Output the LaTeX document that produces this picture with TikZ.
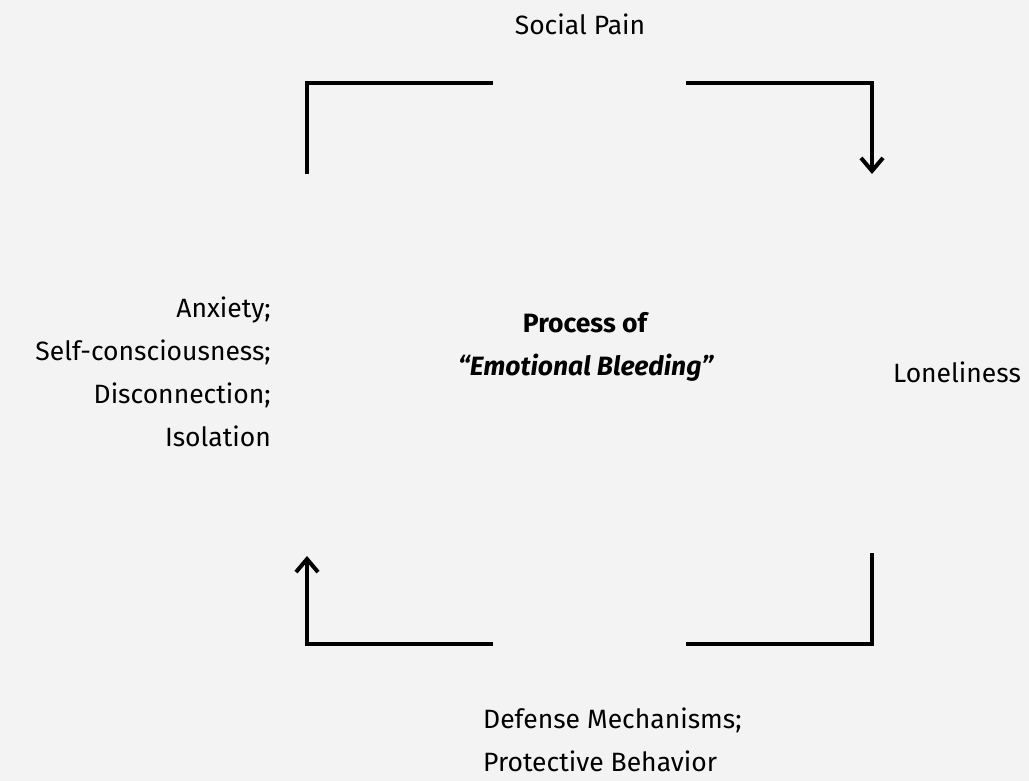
\documentclass[tikz,border=0pt]{standalone}
\usepackage{fontspec}
\setmainfont{Fira Sans}
\usetikzlibrary{arrows.meta}
\definecolor{bg}{HTML}{F3F3F3}
\begin{document}
\begin{tikzpicture}[x=1pt,y=-1pt,
  lbl/.style={font=\fontsize{26.5}{43}\selectfont, inner sep=0pt},
  bracket/.style={line width=4pt, black},
  arr/.style={bracket, -{Straight Barb[length=13pt,width=22pt,line width=4pt]}}]
\fill[bg] (0,0) rectangle (1029,781);
\useasboundingbox (0,0) rectangle (1029,781);
\node[lbl] (social) at (580,24) {Social Pain};
\node[lbl, anchor=east, align=right] (left) at (271,372) {Anxiety;\\Self-consciousness;\\Disconnection;\\Isolation};
\node[lbl, anchor=west] (lonely) at (893,372) {Loneliness};
\node[lbl, anchor=west, align=left] (bottom) at (483,740) {Defense Mechanisms;\\Protective Behavior};
\node[lbl, align=center] (center) at (586,347) {\textbf{Process of}\\\textbf{\textit{“Emotional Bleeding”}}};
\coordinate (a1) at (307,174); \coordinate (a2) at (307,83); \coordinate (a3) at (493,83);
\coordinate (b1) at (686,83); \coordinate (b2) at (872,83); \coordinate (b3) at (872,174);
\coordinate (c1) at (872,553); \coordinate (c2) at (872,644); \coordinate (c3) at (686,644);
\coordinate (d1) at (493,644); \coordinate (d2) at (307,644); \coordinate (d3) at (307,556);
\draw[bracket] (a1) -- (a2) -- (a3);
\draw[arr] (b1) -- (b2) -- (b3);
\draw[bracket] (c1) -- (c2) -- (c3);
\draw[arr] (d1) -- (d2) -- (d3);
\end{tikzpicture}
\end{document}
